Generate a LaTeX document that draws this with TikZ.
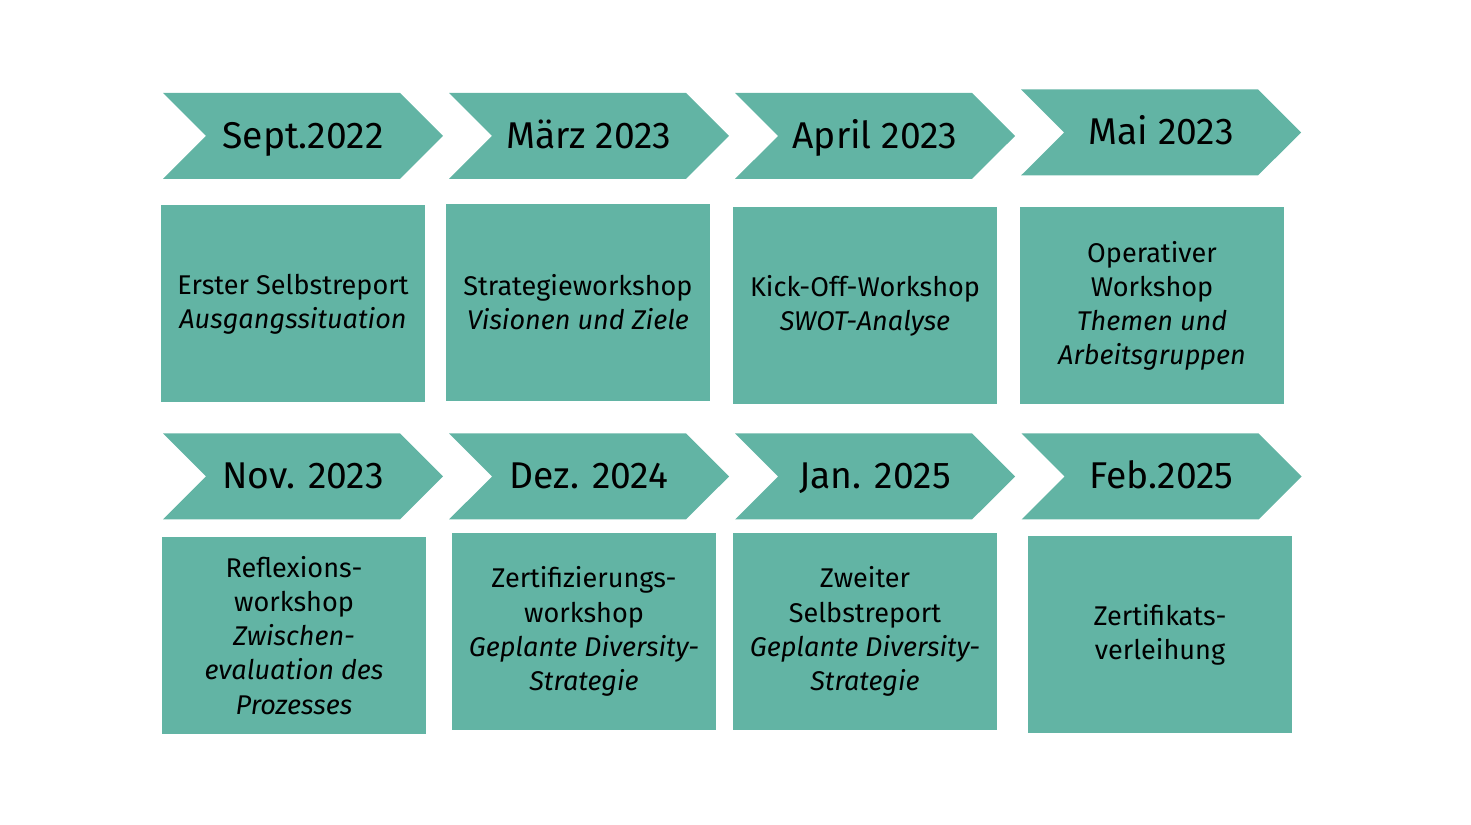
\documentclass[tikz,border=0pt]{standalone}
\usepackage{fontspec}
\setmainfont{Fira Sans}
\usepackage{tikz}
\usetikzlibrary{shapes.symbols}
\definecolor{stepteal}{RGB}{98,180,164}

\begin{document}
\begin{tikzpicture}[
    datearrow/.style={shape=signal, signal to=east, signal from=west, signal pointer angle=90,
        fill=stepteal, draw=none, minimum width=2.8cm, minimum height=0.86cm, inner sep=0pt,
        text height=0.69em, text depth=0pt, font=\fontsize{10.6}{12}\selectfont},
    stagebox/.style={rectangle, fill=stepteal, draw=none, minimum width=2.64cm, minimum height=1.97cm,
        inner sep=0pt, align=center, font=\fontsize{7.7}{9.7}\selectfont}
  ]
        \useasboundingbox (0,0) rectangle (14.71,8.25);
        % First row of dates
        \node[datearrow] (sep22) at (3.03, 6.89) {Sept.2022};
        \node[datearrow] (mar23) at (5.89, 6.89) {März 2023};
        \node[datearrow] (apr23) at (8.75, 6.89) {April 2023};
        \node[datearrow] (mai23) at (11.61, 6.925) {Mai 2023};
        % First row of stages
        \node[stagebox] (selbst1) at (2.93, 5.21) {Erster Selbstreport\\ \textit{Ausgangssituation}};
        \node[stagebox] (strat) at (5.78, 5.225) {Strategieworkshop\\ \textit{Visionen und Ziele}};
        \node[stagebox] (kick) at (8.65, 5.19) {Kick-Off-Workshop\\ \textit{SWOT-Analyse}};
        \node[stagebox] (oper) at (11.52, 5.19) {Operativer\\ Workshop\\ \textit{Themen und}\\ \textit{Arbeitsgruppen}};

        % Second row of dates
        \node[datearrow] (nov23) at (3.03, 3.485) {Nov. 2023};
        \node[datearrow] (dez24) at (5.89, 3.485) {Dez. 2024};
        \node[datearrow] (jan25) at (8.75, 3.485) {Jan. 2025};
        \node[datearrow] (feb25) at (11.615, 3.485) {Feb.2025};
        % Second row of stages
        \node[stagebox] (reflex) at (2.94, 1.895) {Reflexions-\\ workshop\\ \textit{Zwischen-}\\ \textit{evaluation des}\\ \textit{Prozesses}};
        \node[stagebox] (zert) at (5.84, 1.935) {Zertifizierungs-\\ workshop\\ \textit{Geplante Diversity-}\\ \textit{Strategie}};
        \node[stagebox] (selbst2) at (8.65, 1.935) {Zweiter\\ Selbstreport\\ \textit{Geplante Diversity-}\\ \textit{Strategie}};
        \node[stagebox] (verleih) at (11.60, 1.905) {Zertifikats-\\ verleihung};
    \end{tikzpicture}
\end{document}
